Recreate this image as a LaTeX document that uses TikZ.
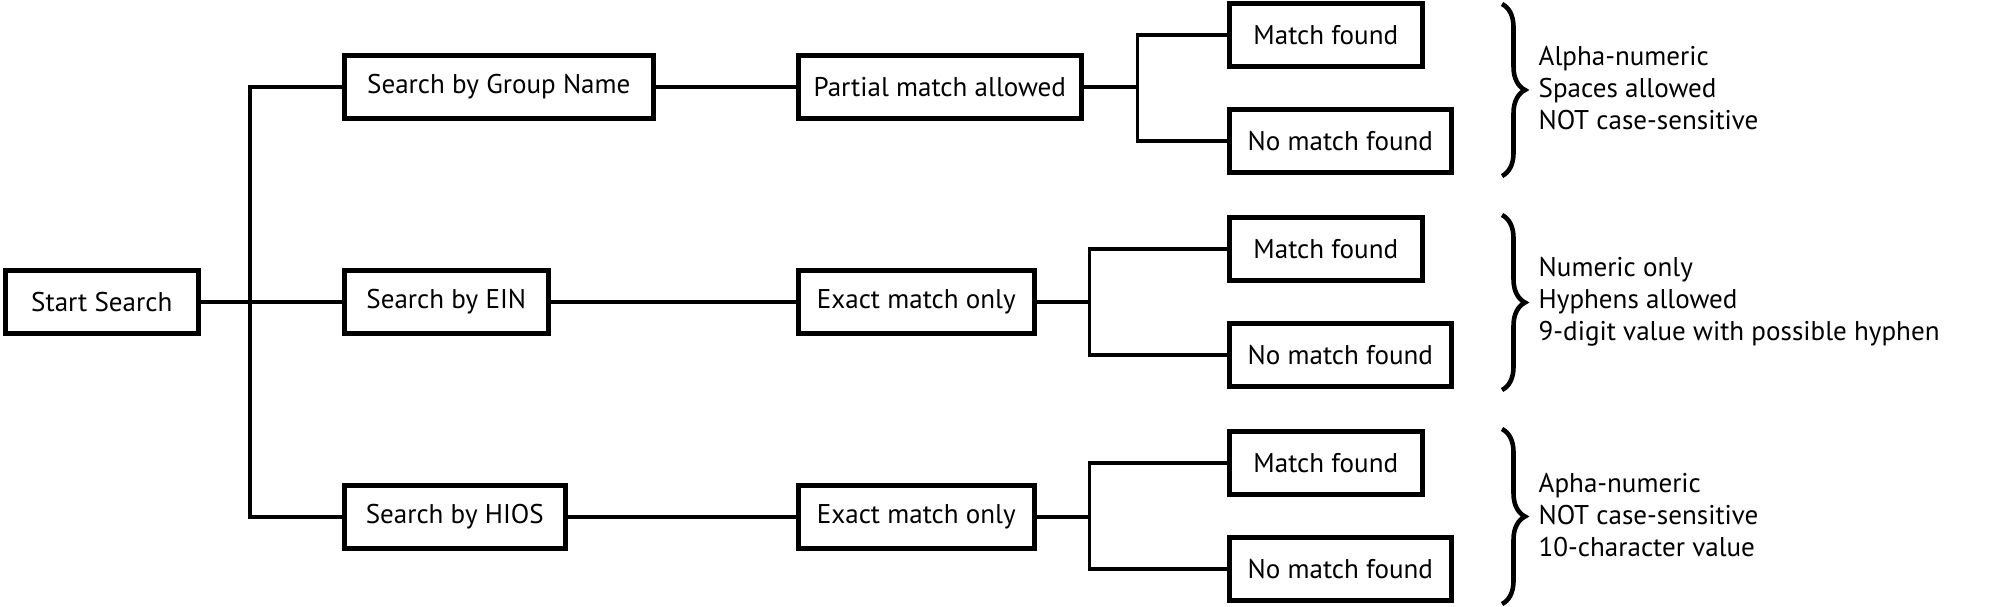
\documentclass[tikz,border=0pt]{standalone}
\usepackage{fontspec}
\setmainfont{PT Sans}
\usetikzlibrary{decorations.pathreplacing}

\tikzset{
  box/.style={draw, line width=1.3pt, anchor=west, minimum width=#1, minimum height=0.63cm,
    inner sep=0pt, font=\fontsize{7.7}{9}\selectfont},
  box/.default=2cm,
  link/.style={line width=0.9pt},
  note/.style={anchor=west, align=left, inner sep=0pt, font=\fontsize{7.7}{9.1}\selectfont},
  curly/.style={decorate, decoration={brace, amplitude=0.23cm}, line width=1.3pt}
}

\begin{document}
\begin{tikzpicture}
\useasboundingbox (0,0) rectangle (20.1,-6.06);
% start
\node[box=1.93cm] (start) at (0.03,-3.02) {Start Search};
% search by
\node[box=3.09cm] (grp) at (3.42,-0.87) {Search by Group Name};
\node[box=2.04cm] (ein) at (3.42,-3.02) {Search by EIN};
\node[box=2.21cm] (hios) at (3.42,-5.17) {Search by HIOS};
% match rule
\node[box=2.83cm] (partial) at (7.96,-0.87) {Partial match allowed};
\node[box=2.36cm] (exactein) at (7.96,-3.02) {Exact match only};
\node[box=2.36cm] (exacthios) at (7.96,-5.17) {Exact match only};
% results
\node[box=1.93cm] (found1) at (12.27,-0.35) {Match found};
\node[box=2.22cm] (none1) at (12.27,-1.41) {No match found};
\node[box=1.93cm] (found2) at (12.27,-2.49) {Match found};
\node[box=2.22cm] (none2) at (12.27,-3.55) {No match found};
\node[box=1.93cm] (found3) at (12.27,-4.63) {Match found};
\node[box=2.22cm] (none3) at (12.27,-5.69) {No match found};

% trunk
\coordinate (trunk) at (2.5,-3.02);
\draw[link] (start) -- (trunk);
\draw[link] (grp.west) -| (trunk) |- (hios.west);
\draw[link] (trunk) -- (ein.west);
\draw[link] (grp) -- (partial);
\draw[link] (ein) -- (exactein);
\draw[link] (hios) -- (exacthios);

% forks
\coordinate (fork1) at ([xshift=0.54cm]partial.east);
\coordinate (fork2) at ([xshift=0.53cm]exactein.east);
\coordinate (fork3) at ([xshift=0.53cm]exacthios.east);
\draw[link] (partial) -- (fork1);
\draw[link] (found1.west) -| (fork1) |- (none1.west);
\draw[link] (exactein) -- (fork2);
\draw[link] (found2.west) -| (fork2) |- (none2.west);
\draw[link] (exacthios) -- (fork3);
\draw[link] (found3.west) -| (fork3) |- (none3.west);

% braces
\draw[curly] (15.02,-0.04) -- (15.02,-1.76);
\draw[curly] (15.02,-2.15) -- (15.02,-3.90);
\draw[curly] (15.02,-4.29) -- (15.02,-6.04);

% notes
\node[note] (rule1) at (15.38,-0.88) {Alpha-numeric\\Spaces allowed\\NOT case-sensitive};
\node[note] (rule2) at (15.38,-3.02) {Numeric only\\Hyphens allowed\\9-digit value with possible hyphen};
\node[note] (rule3) at (15.38,-5.15) {Apha-numeric\\NOT case-sensitive\\10-character value};
\end{tikzpicture}
\end{document}
